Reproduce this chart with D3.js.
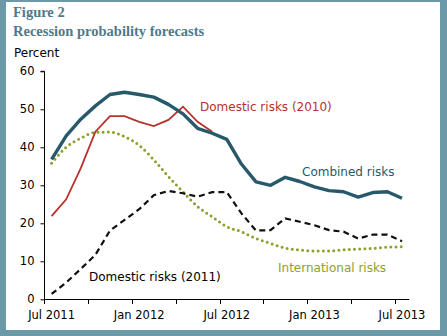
<!DOCTYPE html>
<html>
<head>
<meta charset="utf-8">
<script src="https://cdn.jsdelivr.net/npm/d3@7"></script>
<style>
  html, body { margin: 0; padding: 0; background: #fff; }
  svg { display: block; }
  text { font-family: "DejaVu Sans", Verdana, sans-serif; }
</style>
</head>
<body>
<script>
// monthly categories, Jul 2011 .. Jul 2013
var months = ["Jul 2011", "Aug 2011", "Sep 2011", "Oct 2011", "Nov 2011", "Dec 2011",
    "Jan 2012", "Feb 2012", "Mar 2012", "Apr 2012", "May 2012", "Jun 2012",
    "Jul 2012", "Aug 2012", "Sep 2012", "Oct 2012", "Nov 2012", "Dec 2012",
    "Jan 2013", "Feb 2013", "Mar 2013", "Apr 2013", "May 2013", "Jun 2013", "Jul 2013"];

var combined = [36.8, 43.0, 47.4, 50.9, 53.9, 54.5, 53.9, 53.2, 51.3, 48.8, 45.0, 43.7,
    42.1, 35.6, 30.9, 30.0, 32.1, 31.0, 29.6, 28.6, 28.3, 26.9, 28.1, 28.3, 26.6];

// 2010 domestic series stops in Jun 2012
var domestic2010 = [21.9, 26.3, 34.5, 44.1, 48.2, 48.2, 46.7, 45.6, 47.2, 50.7, 46.7, 44.1];

var domestic2011 = [1.4, 4.4, 8.0, 11.7, 18.1, 20.9, 23.7, 27.4, 28.5, 27.9, 27.0, 28.2,
    28.2, 22.6, 18.1, 18.2, 21.3, 20.4, 19.5, 18.2, 17.8, 16.0, 17.0, 17.0, 15.3];

var international = [35.8, 40.0, 42.4, 43.9, 44.0, 42.8, 40.5, 36.7, 32.3, 28.3, 24.4, 21.7,
    19.1, 17.8, 16.0, 14.7, 13.5, 13.0, 12.7, 12.7, 13.0, 13.2, 13.4, 13.7, 13.8];

var yTicks = [0, 10, 20, 30, 40, 50, 60];
var xLabels = ["Jul 2011", "Jan 2012", "Jul 2012", "Jan 2013", "Jul 2013"];

var width = 447, height = 336;
var frameColor = "#6b99a7";

var svg = d3.select("body").append("svg")
    .attr("width", width)
    .attr("height", height);

// outer frame
svg.append("rect").attr("x", 0).attr("y", 0).attr("width", width).attr("height", height)
    .attr("fill", frameColor);
svg.append("rect").attr("x", 6).attr("y", 2).attr("width", 434).attr("height", 328)
    .attr("fill", "#fff");

// titles
svg.append("text")
    .attr("x", 13).attr("y", 17)
    .style("font-family", "'Liberation Serif', Georgia, serif")
    .style("font-weight", "bold")
    .style("font-size", "14.5px")
    .attr("fill", "#4f7a8a")
    .text("Figure 2");
svg.append("text")
    .attr("x", 13).attr("y", 36)
    .style("font-family", "'Liberation Serif', Georgia, serif")
    .style("font-weight", "bold")
    .style("font-size", "14.5px")
    .attr("fill", "#4f7a8a")
    .text("Recession probability forecasts");

svg.append("text")
    .attr("x", 14).attr("y", 57)
    .style("font-size", "12px")
    .attr("fill", "#000")
    .text("Percent");

var x = d3.scalePoint()
    .domain(months)
    .range([44.3, 409.3])
    .padding(0.5);

var y = d3.scaleLinear()
    .domain([0, 60])
    .range([299.3, 71.3]);

// y axis
var yAxis = svg.append("g")
    .attr("transform", "translate(44.5,0)")
    .call(d3.axisLeft(y).tickValues(yTicks).tickSize(4).tickPadding(6));
yAxis.select(".domain").attr("d", "M-4," + y(60) + "H0V" + y(0));
yAxis.selectAll("text").style("font-size", "11.5px").style("font-family", "'DejaVu Sans', Verdana, sans-serif");

// x axis: ticks sit between months, every third one
var step = x.step();
var tickPos = d3.range(0, months.length + 1, 3).map(function (i) { return 44.3 + i * step; });
var xAxis = svg.append("g").attr("class", "x-axis");
xAxis.append("line")
    .attr("x1", 44.3).attr("x2", 409.3)
    .attr("y1", 299.5).attr("y2", 299.5)
    .attr("stroke", "#000");
xAxis.selectAll(".tick").data(tickPos).enter().append("line")
    .attr("x1", function (d) { return Math.round(d) + 0.5; })
    .attr("x2", function (d) { return Math.round(d) + 0.5; })
    .attr("y1", 299.5).attr("y2", 304)
    .attr("stroke", "#000");
xAxis.selectAll(".lbl").data(xLabels).enter().append("text")
    .attr("x", function (d) { return x(d); })
    .attr("y", 319)
    .attr("text-anchor", "middle")
    .style("font-size", "11.5px")
    .text(function (d) { return d; });

function lineFor(values, curve) {
    return d3.line()
        .x(function (d, i) { return x(months[i]); })
        .y(function (d) { return y(d); })
        .curve(curve || d3.curveLinear)(values);
}

// international risks: smooth dotted
svg.append("path")
    .attr("d", lineFor(international, d3.curveMonotoneX))
    .attr("fill", "none")
    .attr("stroke", "#8ea02b")
    .attr("stroke-width", 3)
    .attr("stroke-linecap", "round")
    .attr("stroke-dasharray", "0 5.2");

// domestic risks (2011): dashed black
svg.append("path")
    .attr("d", lineFor(domestic2011))
    .attr("fill", "none")
    .attr("stroke", "#111")
    .attr("stroke-width", 2.2)
    .attr("stroke-dasharray", "6 4");

// domestic risks (2010)
svg.append("path")
    .attr("d", lineFor(domestic2010))
    .attr("fill", "none")
    .attr("stroke", "#b8322d")
    .attr("stroke-width", 1.8);

// combined risks
svg.append("path")
    .attr("d", lineFor(combined))
    .attr("fill", "none")
    .attr("stroke", "#27596a")
    .attr("stroke-width", 3.4)
    .attr("stroke-linejoin", "round");

// series labels
var labels = [
    {text: "Domestic risks (2010)", x: 200, y: 111, color: "#b8322d"},
    {text: "Combined risks", x: 302, y: 176, color: "#27596a"},
    {text: "International risks", x: 278, y: 272, color: "#8ea02b"},
    {text: "Domestic risks (2011)", x: 89, y: 281, color: "#000"}
];
svg.selectAll(".series-label").data(labels).enter().append("text")
    .attr("class", "series-label")
    .attr("x", function (d) { return d.x; })
    .attr("y", function (d) { return d.y; })
    .attr("fill", function (d) { return d.color; })
    .style("font-size", "12px")
    .text(function (d) { return d.text; });
</script>
</body>
</html>
